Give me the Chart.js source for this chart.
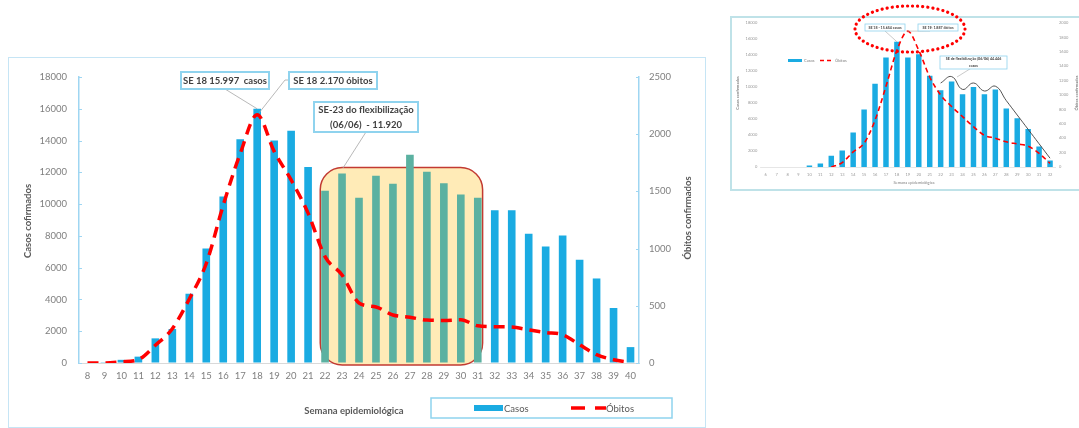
<!DOCTYPE html>
<html>
<head>
<meta charset="utf-8">
<script src="https://cdn.jsdelivr.net/npm/chart.js@4.4.1/dist/chart.umd.min.js"></script>
<style>
  html, body { margin:0; padding:0; background:#fff; width:1079px; height:428px; overflow:hidden; }
  #main { position:absolute; left:8px; top:57px; width:696px; height:369px; border:1px solid #c6e5f5; }
  #inset { position:absolute; left:725px; top:0; width:354px; height:200px; }
  canvas { position:absolute; left:0; top:0; }
</style>
</head>
<body>
<div id="main"><canvas id="mainChart" width="696" height="369"></canvas></div>
<div id="inset"><canvas id="insetChart" width="354" height="200"></canvas></div>
<script>
// main chart: semanas 8..40
const weeks = ["8","9","10","11","12","13","14","15","16","17","18","19","20","21","22","23","24","25","26","27","28","29","30","31","32","33","34","35","36","37","38","39","40"];
const casos = [30,50,200,400,1550,2140,4360,7210,10480,14090,15997,14000,14610,12330,10840,11920,10400,11780,11280,13100,12030,11320,10600,10400,9620,9620,8130,7330,8030,6500,5320,3460,1000];
const obitos = [0,0,10,30,155,300,560,870,1380,1830,2170,1850,1600,1310,930,770,525,490,420,400,375,372,378,325,317,314,290,267,247,160,73,29,5];
const flexWeeks = ["22","23","24","25","26","27","28","29","30","31"];

// inset chart: semanas 6..32
const insetWeeks = ["6","7","8","9","10","11","12","13","14","15","16","17","18","19","20","21","22","23","24","25","26","27","28","29","30","31","32"];
const insetCasos = [0,0,0,0,200,450,1400,2050,4300,7200,10400,13700,15654,13700,14100,11400,9600,10700,9100,10000,9100,9700,7300,6100,4750,2550,800];
const insetObitos = [null,null,null,null,null,null,0,60,210,330,650,1120,1620,1887,1620,1250,1000,840,700,560,440,400,350,320,290,190,50];
const insetTendencia = [null,null,null,null,null,null,null,null,null,null,null,null,null,null,null,null,10500,11300,9700,10500,9500,10100,8300,6500,4700,2900,1100];

const FONT = "Lato, 'Open Sans', sans-serif";
const BLUE = "#1aabe2";
const TEAL = "#5bb1a1";
const AXIS = "#9fd6f2";
const plain = v => String(v);

function textBox(ctx, x, y, w, h, lines, size, borderW) {
  ctx.save();
  ctx.fillStyle = "#fff";
  ctx.fillRect(x, y, w, h);
  ctx.lineWidth = borderW;
  ctx.strokeStyle = "#8fd3ee";
  ctx.strokeRect(x, y, w, h);
  ctx.fillStyle = "#404040";
  ctx.font = "bold " + size + "px " + FONT;
  ctx.textAlign = "center";
  ctx.textBaseline = "middle";
  const lh = h / lines.length;
  lines.forEach((t, i) => ctx.fillText(t, x + w / 2, y + lh * (i + 0.5)));
  ctx.restore();
}

function leader(ctx, pts, w) {
  ctx.save();
  ctx.strokeStyle = "#a6a6a6";
  ctx.lineWidth = w;
  ctx.beginPath();
  ctx.moveTo(pts[0][0], pts[0][1]);
  for (let i = 1; i < pts.length; i++) ctx.lineTo(pts[i][0], pts[i][1]);
  ctx.stroke();
  ctx.restore();
}

function vText(ctx, t, x, y, size, color) {
  ctx.save();
  ctx.translate(x, y);
  ctx.rotate(-Math.PI / 2);
  ctx.fillStyle = color;
  ctx.font = "bold " + size + "px " + FONT;
  ctx.textAlign = "center";
  ctx.textBaseline = "middle";
  ctx.fillText(t, 0, 0);
  ctx.restore();
}

const mainDecor = {
  id: "mainDecor",
  beforeDatasetsDraw(chart) {
    const { ctx, scales: { y } } = chart;
    const bars = chart.getDatasetMeta(0).data;
    const a = bars[weeks.indexOf("22")], b = bars[weeks.indexOf("31")];
    const left = a.x - a.width / 2 - 1, right = b.x + b.width / 2 + 1;
    const top = y.getPixelForValue(12300), bottom = y.bottom + 2;
    ctx.save();
    ctx.beginPath();
    ctx.roundRect(left, top, right - left, bottom - top, 22);
    ctx.fillStyle = "#ffebb7";
    ctx.fill();
    ctx.lineWidth = 1.5;
    ctx.strokeStyle = "#c23a32";
    ctx.stroke();
    ctx.restore();
  },
  afterDraw(chart) {
    const { ctx, scales: { x, y, y1 } } = chart;
    // inward tick marks
    ctx.save();
    ctx.strokeStyle = AXIS;
    ctx.lineWidth = 1;
    y.ticks.forEach(t => { const p = Math.round(y.getPixelForValue(t.value)) + 0.5; ctx.beginPath(); ctx.moveTo(y.right, p); ctx.lineTo(y.right + 3, p); ctx.stroke(); });
    y1.ticks.forEach(t => { const p = Math.round(y1.getPixelForValue(t.value)) + 0.5; ctx.beginPath(); ctx.moveTo(y1.left - 3, p); ctx.lineTo(y1.left, p); ctx.stroke(); });
    ctx.restore();

    // annotations
    const i18 = weeks.indexOf("18");
    const bx = x.getPixelForValue(i18);
    leader(ctx, [[216, 31], [bx, y.getPixelForValue(casos[i18])]], 0.8);
    leader(ctx, [[280, 22], [276, 22], [bx + 2, y1.getPixelForValue(obitos[i18]) - 2]], 0.8);
    leader(ctx, [[357, 74], [334, 110]], 0.8);
    textBox(ctx, 172, 14, 88, 17, ["SE 18 15.997  casos"], 9.5, 2);
    textBox(ctx, 280, 14, 88, 17, ["SE 18 2.170 óbitos"], 9.5, 2);
    textBox(ctx, 305, 44, 104, 30, ["SE-23 do flexibilização", "(06/06)  - 11.920"], 9.5, 2);

    // titles
    vText(ctx, "Casos cofirmados", 19, 163, 9.5, "#595959");
    vText(ctx, "Óbitos confirmados", 679, 160, 9.5, "#595959");
    ctx.save();
    ctx.fillStyle = "#595959";
    ctx.font = "bold 9.5px " + FONT;
    ctx.textAlign = "center";
    ctx.textBaseline = "middle";
    ctx.fillText("Semana epidemiológica", 345, 353);
    ctx.restore();

    // legend
    ctx.save();
    ctx.lineWidth = 1.5;
    ctx.strokeStyle = "#8fd3ee";
    ctx.strokeRect(422, 340, 241, 20);
    ctx.fillStyle = BLUE;
    ctx.fillRect(465, 347, 29, 6);
    ctx.fillStyle = "#595959";
    ctx.font = "9.5px " + FONT;
    ctx.textBaseline = "middle";
    ctx.fillText("Casos", 495, 350.5);
    ctx.fillText("Óbitos", 597, 350.5);
    ctx.strokeStyle = "#ff0000";
    ctx.lineWidth = 3.5;
    ctx.setLineDash([14, 10]);
    ctx.beginPath();
    ctx.moveTo(562, 350);
    ctx.lineTo(597, 350);
    ctx.stroke();
    ctx.restore();
  }
};

const tickFont = { family: FONT, size: 9.5 };

new Chart(document.getElementById("mainChart").getContext("2d"), {
  type: "bar",
  data: {
    labels: weeks,
    datasets: [
      {
        label: "Casos",
        data: casos,
        backgroundColor: weeks.map(w => flexWeeks.includes(w) ? TEAL : BLUE),
        barPercentage: 0.45,
        categoryPercentage: 1,
        yAxisID: "y",
        order: 2
      },
      {
        type: "line",
        label: "Óbitos",
        data: obitos,
        borderColor: "#ff0000",
        borderWidth: 3.5,
        borderDash: [11, 7],
        borderCapStyle: "butt",
        pointRadius: 0,
        tension: 0.4,
        cubicInterpolationMode: "monotone",
        fill: false,
        yAxisID: "y1",
        order: 1
      }
    ]
  },
  options: {
    responsive: false,
    animation: false,
    layout: { padding: { top: 19, left: 0, right: 0, bottom: 0 } },
    plugins: { legend: { display: false }, tooltip: { enabled: false } },
    scales: {
      x: {
        grid: { display: false, drawTicks: false },
        border: { color: "#d9d9d9", width: 1 },
        ticks: { color: "#7f7f7f", font: tickFont, padding: 7, maxRotation: 0, autoSkip: false },
        afterFit(s) { s.height = 64; }
      },
      y: {
        position: "left",
        min: 0, max: 18000,
        ticks: { stepSize: 2000, color: "#7f7f7f", font: tickFont, padding: 12, callback: plain },
        grid: { drawOnChartArea: false, drawTicks: false },
        border: { color: AXIS, width: 1.5 },
        afterFit(s) { s.width = 70; }
      },
      y1: {
        position: "right",
        min: 0, max: 2500,
        ticks: { stepSize: 500, color: "#7f7f7f", font: tickFont, padding: 10, callback: plain },
        grid: { drawOnChartArea: false, drawTicks: false },
        border: { color: AXIS, width: 1.5 },
        afterFit(s) { s.width = 66; }
      }
    }
  },
  plugins: [mainDecor]
});

// ---------- inset ----------
const insetDecor = {
  id: "insetDecor",
  beforeDraw(chart) {
    const ctx = chart.ctx;
    ctx.save();
    ctx.strokeStyle = "#bfe2e8";
    ctx.lineWidth = 2;
    ctx.strokeRect(6, 17, 360, 173);
    ctx.restore();
  },
  afterDraw(chart) {
    const { ctx, scales: { x, y, y1 } } = chart;
    const i18 = insetWeeks.indexOf("18"), i19 = insetWeeks.indexOf("19");
    leader(ctx, [[160, 31], [x.getPixelForValue(i18), y.getPixelForValue(insetCasos[i18])]], 0.6);
    leader(ctx, [[205, 31], [x.getPixelForValue(i19) - 1, y1.getPixelForValue(insetObitos[i19])]], 0.6);
    leader(ctx, [[248, 67], [232, 77]], 0.6);
    textBox(ctx, 140, 24, 40, 7, ["SE 18 - 15.654 casos"], 3.6, 0.8);
    textBox(ctx, 193, 24, 40, 7, ["SE 19: 1.887 óbitos"], 3.6, 0.8);
    textBox(ctx, 215, 56, 67, 13, ["SE de flexibilização (06/06) 44.446", "casos"], 3.6, 0.8);

    // dotted ellipse
    ctx.save();
    ctx.strokeStyle = "#ff0000";
    ctx.lineWidth = 3.2;
    ctx.lineCap = "round";
    ctx.setLineDash([0.1, 5]);
    ctx.beginPath();
    ctx.ellipse(185, 29, 55, 23, 0, 0, Math.PI * 2);
    ctx.stroke();
    ctx.restore();

    vText(ctx, "Casos confirmados", 13, 93, 4, "#7f7f7f");
    vText(ctx, "Óbitos confirmados", 352, 93, 4, "#7f7f7f");
    ctx.save();
    ctx.fillStyle = "#7f7f7f";
    ctx.font = "4px " + FONT;
    ctx.textAlign = "center";
    ctx.textBaseline = "middle";
    ctx.fillText("Semana epidemiológica", 189, 183);
    ctx.textAlign = "left";
    ctx.fillText("Casos", 79, 60.5);
    ctx.fillText("Óbitos", 110, 60.5);
    ctx.fillStyle = BLUE;
    ctx.fillRect(63, 59, 14, 3);
    ctx.strokeStyle = "#ff0000";
    ctx.lineWidth = 1.5;
    ctx.setLineDash([4, 3]);
    ctx.beginPath();
    ctx.moveTo(95, 60.5);
    ctx.lineTo(108, 60.5);
    ctx.stroke();
    ctx.restore();
  }
};

const smallFont = { family: FONT, size: 4 };

new Chart(document.getElementById("insetChart").getContext("2d"), {
  type: "bar",
  data: {
    labels: insetWeeks,
    datasets: [
      {
        label: "Casos",
        data: insetCasos,
        backgroundColor: BLUE,
        barPercentage: 0.5,
        categoryPercentage: 1,
        yAxisID: "y",
        order: 3
      },
      {
        type: "line",
        label: "Óbitos",
        data: insetObitos,
        borderColor: "#ff0000",
        borderWidth: 1.6,
        borderDash: [5, 3.5],
        pointRadius: 0,
        tension: 0.4,
        cubicInterpolationMode: "monotone",
        yAxisID: "y1",
        order: 1
      },
      {
        type: "line",
        label: "Tendência",
        data: insetTendencia,
        borderColor: "#404040",
        borderWidth: 0.9,
        pointRadius: 0,
        tension: 0.45,
        yAxisID: "y",
        order: 2
      }
    ]
  },
  options: {
    responsive: false,
    animation: false,
    layout: { padding: { top: 23, left: 0, right: 0, bottom: 0 } },
    plugins: { legend: { display: false }, tooltip: { enabled: false } },
    scales: {
      x: {
        grid: { display: false, drawTicks: false },
        border: { color: "#e0e0e0", width: 0.8 },
        ticks: { color: "#999", font: smallFont, padding: 5.5, maxRotation: 0, autoSkip: false },
        afterFit(s) { s.height = 33; }
      },
      y: {
        position: "left",
        min: 0, max: 18000,
        ticks: { stepSize: 2000, color: "#999", font: smallFont, padding: 3, callback: plain },
        grid: { display: false, drawTicks: false },
        border: { display: false },
        afterFit(s) { s.width = 35.2; }
      },
      y1: {
        position: "right",
        min: 0, max: 2000,
        ticks: { stepSize: 200, color: "#999", font: smallFont, padding: 3.5, callback: plain },
        grid: { display: false, drawTicks: false },
        border: { display: false },
        afterFit(s) { s.width = 23.5; }
      }
    }
  },
  plugins: [insetDecor]
});
</script>
</body>
</html>
